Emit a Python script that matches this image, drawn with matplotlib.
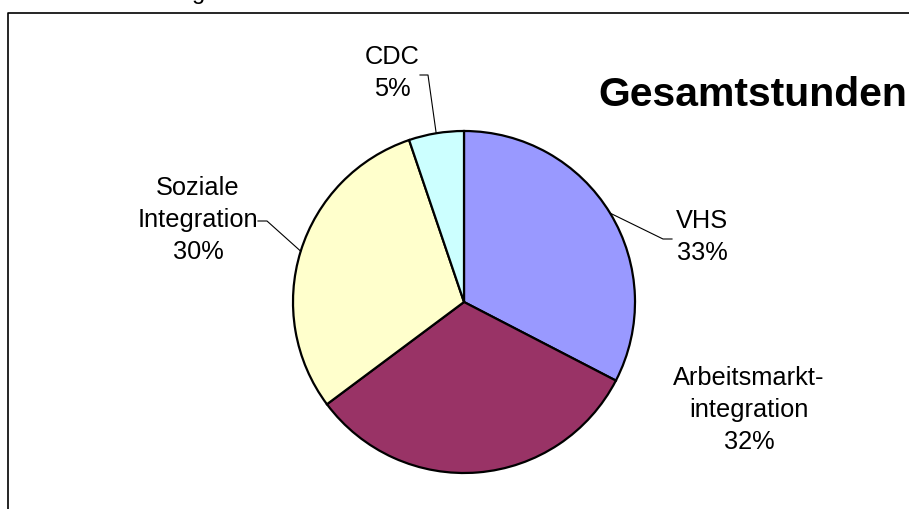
import numpy as np
import matplotlib
matplotlib.use("Agg")
import matplotlib.pyplot as plt
from matplotlib.lines import Line2D

# data
categories = ["VHS", "Arbeitsmarkt-\nintegration", "Soziale\nIntegration", "CDC"]
shares = [32.6, 32.2, 30.0, 5.2]
colors = ["#9999FF", "#993366", "#FFFFCC", "#CCFFFF"]
title = "Gesamtstunden"

W, H = 909, 509
plt.rcParams["font.family"] = ["Liberation Sans", "DejaVu Sans"]

fig = plt.figure(figsize=(W / 100, H / 100), dpi=100)
ax = fig.add_axes([0, 0, 1, 1])


def py(y):
    # pixel row (from top) -> data y
    return H - y


cx, cy, r = 464, py(302), 171
wedges, _ = ax.pie(
    shares, colors=colors, startangle=90, counterclock=False,
    center=(cx, cy), radius=r, frame=True,
    wedgeprops=dict(edgecolor="black", linewidth=1.6),
)
ax.set_xlim(0, W)
ax.set_ylim(0, H)
ax.set_aspect("equal")
ax.axis("off")

# label centre (px) and leader elbow / end (px), None = no leader
layout = {
    0: ((702, 237), [(663, 239), (672, 239)]),
    1: ((749, 410), None),
    2: ((198, 220), [(267, 221), (258, 221)]),
    3: ((392, 73), [(428, 75), (420, 75)]),
}

for i, w in enumerate(wedges):
    (lx, ly), leader = layout[i]
    pct = f"{round(shares[i] / sum(shares) * 100):.0f}%"
    ax.text(lx, py(ly), f"{categories[i]}\n{pct}", ha="center", va="center",
            fontsize=18.3, linespacing=1.42, color="black")
    if leader:
        mid = np.deg2rad((w.theta1 + w.theta2) / 2)
        xs = [cx + r * np.cos(mid)] + [p[0] for p in leader]
        ys = [cy + r * np.sin(mid)] + [py(p[1]) for p in leader]
        ax.add_line(Line2D(xs, ys, color="black", linewidth=0.8))

ax.text(598, py(106), title, ha="left", va="baseline",
        fontsize=29.5, fontweight="bold")

# chart-area frame (only left and top edges are visible)
ax.add_line(Line2D([7.5, 7.5, W], [0, py(12.5), py(12.5)],
                   color="black", linewidth=1.2))
# descender of a heading cut off above the frame
ax.text(199, H + 1, "g", ha="center", va="baseline", fontsize=17)

fig.savefig("out.png", dpi=100)
